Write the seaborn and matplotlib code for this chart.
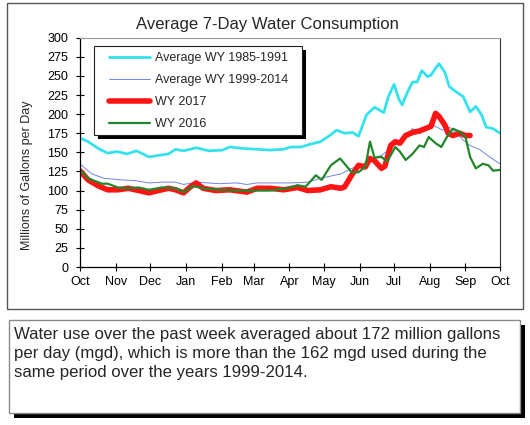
import matplotlib
matplotlib.use('Agg')  # Non-interactive backend
import matplotlib.pyplot as plt
from matplotlib.patches import Rectangle
import pandas as pd
import seaborn as sns

# Days since Oct 1, values in millions of gallons per day
avg8591_day = [0, 7, 16, 24, 32, 41, 49, 60, 68, 77, 83, 90, 101, 112, 124, 130, 142, 154,
               165, 177, 183, 192, 201, 209, 217, 223, 230, 237, 242, 249, 256, 264, 268,
               273, 277, 280, 284, 289, 293, 297, 302, 305, 309, 312, 317, 321, 327, 333,
               339, 344, 349, 353, 359, 365]
avg8591_mgd = [169, 164, 155, 149, 151, 148, 152, 144, 146, 148, 154, 152, 156, 152, 153, 157,
               155, 154, 153, 154, 157, 157, 161, 164, 172, 179, 175, 176, 171, 199, 209, 202,
               223, 239, 220, 212, 227, 242, 242, 257, 249, 251, 260, 266, 255, 236, 229, 223,
               203, 210, 199, 183, 181, 175]

avg9914_day = [0, 10, 21, 36, 48, 60, 71, 83, 90, 101, 121, 136, 145, 154, 165, 183, 198, 209,
               218, 227, 236, 245, 253, 262, 268, 274, 283, 289, 296, 303, 309, 315, 321, 327,
               333, 339, 347, 356, 365]
avg9914_mgd = [135, 122, 116, 114, 113, 110, 111, 111, 108, 111, 109, 110, 108, 110, 110, 110,
               111, 116, 119, 122, 129, 133, 142, 146, 153, 162, 170, 181, 175, 186, 184, 179,
               183, 175, 166, 159, 154, 144, 135]

wy2017_day = [0, 7, 16, 24, 33, 42, 51, 60, 68, 77, 83, 90, 96, 101, 107, 118, 130, 145, 154,
              165, 177, 189, 198, 209, 218, 227, 230, 236, 242, 248, 252, 256, 262, 265, 270,
              274, 278, 283, 289, 295, 300, 305, 309, 312, 317, 320, 324, 330, 335, 339]
wy2017_mgd = [126, 114, 106, 101, 101, 103, 100, 97, 100, 103, 101, 97, 105, 110, 103, 100,
              101, 98, 103, 103, 101, 104, 100, 101, 105, 103, 105, 120, 133, 131, 142, 139,
              129, 132, 159, 164, 162, 172, 176, 178, 181, 184, 201, 197, 186, 175, 172, 175,
              172, 172]

wy2016_day = [0, 7, 19, 24, 33, 42, 51, 60, 71, 83, 90, 98, 107, 121, 136, 151, 165, 180, 189,
              196, 205, 210, 218, 226, 230, 236, 242, 248, 252, 256, 262, 267, 274, 278, 283,
              289, 295, 299, 303, 309, 314, 318, 324, 330, 335, 339, 344, 350, 355, 359, 365]
wy2016_mgd = [127, 116, 109, 109, 104, 103, 104, 101, 104, 103, 98, 106, 103, 101, 100, 100,
              100, 103, 107, 105, 120, 114, 133, 142, 135, 124, 124, 131, 164, 143, 144, 138,
              157, 151, 140, 148, 159, 157, 170, 162, 157, 168, 181, 177, 170, 144, 129, 135,
              133, 126, 127]

month_ticks = [0, 31, 61, 92, 123, 151, 182, 212, 243, 273, 304, 335, 365]
month_labels = ['Oct', 'Nov', 'Dec', 'Jan', 'Feb', 'Mar', 'Apr', 'May', 'Jun', 'Jul',
                'Aug', 'Sep', 'Oct']

note_lines = ['Water use over the past week averaged about 172 million gallons',
              'per day (mgd), which is more than the 162 mgd used during the',
              'same period over the years 1999-2014.']

W, H = 530, 425


def fx(px):
    return px / W


def fy(py):
    return 1 - py / H


sns.set_style('ticks')
plt.rcParams['font.family'] = ['Liberation Sans', 'DejaVu Sans']

fig = plt.figure(figsize=(W / 100, H / 100), dpi=100)
ax = fig.add_axes([fx(80), fy(267), (500 - 80) / W, (267 - 37.7) / H])

series = [
    ('Average WY 1985-1991', avg8591_day, avg8591_mgd, '#35E2EC', 2.0),
    ('Average WY 1999-2014', avg9914_day, avg9914_mgd, '#6F86E6', 0.7),
    ('WY 2017', wy2017_day, wy2017_mgd, '#FF1414', 4.0),
    ('WY 2016', wy2016_day, wy2016_mgd, '#23862A', 1.6),
]
for name, days, vals, color, lw in series:
    d = pd.DataFrame({'day': days, 'mgd': vals})
    sns.lineplot(data=d, x='day', y='mgd', color=color, lw=lw, label=name,
                 sort=False, estimator=None, legend=False, ax=ax)

ax.set_xlim(0, 365)
ax.set_ylim(0, 300)
ax.set_xticks(month_ticks)
ax.set_xticklabels(month_labels)
ax.set_yticks(range(0, 301, 25))
ax.set_xlabel('')
ax.set_ylabel('')
ax.tick_params(direction='inout', length=6, width=0.8, colors='black', labelsize=9)
ax.tick_params(axis='x', pad=3.5)
ax.tick_params(axis='y', pad=5.5)
for side in ['left', 'bottom']:
    ax.spines[side].set_color('black')
    ax.spines[side].set_linewidth(0.9)
ax.spines['top'].set_color('#9a9a9a')
ax.spines['right'].set_color('#333333')

# titles
fig.text(fx(267), fy(24), 'Average 7-Day Water Consumption', ha='center', va='center',
         fontsize=12)
fig.text(fx(27), fy(175.7), 'Millions of Gallons per Day', rotation=90, ha='center',
         va='center', fontsize=9)

# legend box with black drop shadow
fig.add_artist(Rectangle((fx(97.6), fy(139)), (301.7 - 93.6) / W, (135 - 45.7) / H,
                         facecolor='black', edgecolor='none', transform=fig.transFigure,
                         zorder=2))
fig.add_artist(Rectangle((fx(93.6), fy(135)), (301.7 - 93.6) / W, (135 - 45.7) / H,
                         facecolor='white', edgecolor='#222222', lw=0.8,
                         transform=fig.transFigure, zorder=3))
handles, labels = ax.get_legend_handles_labels()
fig.legend(handles, labels, loc='upper left', bbox_to_anchor=(fx(109), fy(52)),
           bbox_transform=fig.transFigure, frameon=False, borderpad=0, borderaxespad=0,
           fontsize=9, handlelength=3.25, handletextpad=0.4, labelspacing=0.8)

# outer frame of the chart
fig.add_artist(Rectangle((fx(7.3), fy(309)), (522.7 - 7.3) / W, (309 - 3.3) / H,
                         fill=False, edgecolor='#555555', lw=1, transform=fig.transFigure,
                         zorder=1))

# note box with drop shadow
fig.add_artist(Rectangle((fx(13.5), fy(417.5)), (520 - 9) / W, (413 - 320) / H,
                         facecolor='black', edgecolor='none', transform=fig.transFigure,
                         zorder=2))
fig.add_artist(Rectangle((fx(9), fy(413)), (520 - 9) / W, (413 - 320) / H,
                         facecolor='white', edgecolor='#8a8a8a', lw=1,
                         transform=fig.transFigure, zorder=3))
for i, line in enumerate(note_lines):
    fig.text(fx(14.5), fy(335 + i * 18.5), line, ha='left', va='center', fontsize=12.1,
             zorder=6)

fig.savefig('out.png', dpi=100)
plt.close()
print("Saved out.png")
